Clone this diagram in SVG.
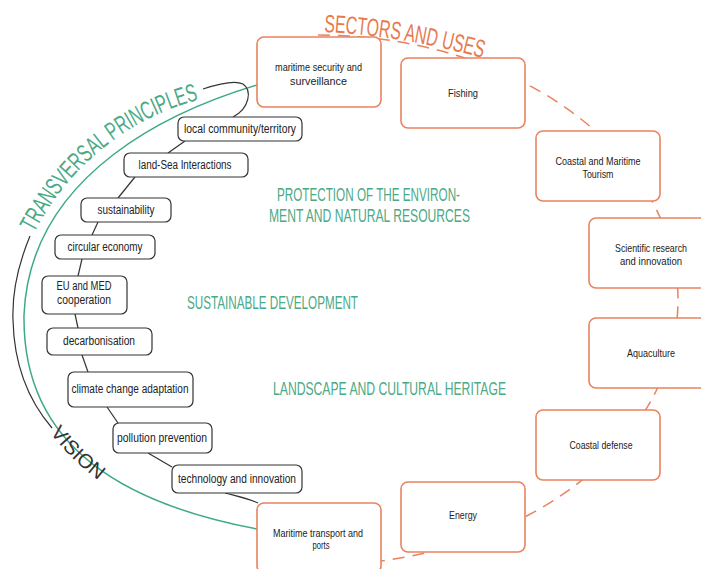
<svg xmlns="http://www.w3.org/2000/svg" width="701" height="569" viewBox="0 0 701 569">
<defs>
<style>
.ob{fill:#fff;stroke:#e9835f;stroke-width:1.6}
.kb{fill:#fff;stroke:#333;stroke-width:1.2}
.ot{font-family:"Liberation Sans",Arial,sans-serif;font-size:11px;fill:#222;text-anchor:middle}
.kt{font-family:"Liberation Sans",Arial,sans-serif;font-size:12px;fill:#222;text-anchor:middle}
.gt{font-family:"Liberation Sans",Arial,sans-serif;font-size:18px;fill:#4aaa86}
.dash{fill:none;stroke:#e9835f;stroke-width:1.5;stroke-dasharray:12 8}
.gl{fill:none;stroke:#3daa87;stroke-width:1.5}
.kl{fill:none;stroke:#333;stroke-width:1.2}
</style>
<path id="pSec" d="M324,32 Q405,36 490,60"/>
<path id="pTra" d="M34,233 C70,165 130,115 210,97"/>
<path id="pVis" d="M49.4,432 A324,244 0 0 0 219,539"/>
</defs>
<rect width="701" height="569" fill="#fff"/>
<g id="connectors">
<path class="dash" d="M318,35 A360,265 0 1 1 318,565"/>
<path class="gl" d="M257,85 C180,108 30,170 24,315 C22,450 130,505 257,529"/>
<path class="kl" d="M30,236 C18,265 12,295 13,320 C14,365 28,400 52,428"/>
<path class="kl" d="M203,89 C218,84 235,80 243,84 C252,90 250,108 233,117"/>
<path class="kl" d="M185,141 L168,153"/>
<path class="kl" d="M135,177 L118,198"/>
<path class="kl" d="M98,222 L92,235"/>
<path class="kl" d="M82,259 L78,276"/>
<path class="kl" d="M75,314 L78,328"/>
<path class="kl" d="M82,355 L88,372"/>
<path class="kl" d="M107,407 L118,423"/>
<path class="kl" d="M148,453 L172,467"/>
<path class="kl" d="M225,493 C240,497 250,499 258,503"/>
</g>
<g id="arc-labels">
<text font-family="Liberation Sans,Arial,sans-serif" font-size="25" fill="#e8794f"><textPath href="#pSec" textLength="161" lengthAdjust="spacingAndGlyphs">SECTORS AND USES</textPath></text>
<text font-family="Liberation Sans,Arial,sans-serif" font-size="25" fill="#4aaa86"><textPath href="#pTra" textLength="218" lengthAdjust="spacingAndGlyphs">TRANSVERSAL PRINCIPLES</textPath></text>
<text font-family="Liberation Sans,Arial,sans-serif" font-size="20" fill="#333"><textPath href="#pVis" startOffset="1" textLength="68" lengthAdjust="spacingAndGlyphs">VISION</textPath></text>
</g>
<g id="themes">
<text class="gt" x="277" y="201" textLength="183" lengthAdjust="spacingAndGlyphs">PROTECTION OF THE ENVIRON-</text>
<text class="gt" x="269" y="222" textLength="201" lengthAdjust="spacingAndGlyphs">MENT AND NATURAL RESOURCES</text>
<text class="gt" x="187" y="309" textLength="171" lengthAdjust="spacingAndGlyphs">SUSTAINABLE DEVELOPMENT</text>
<text class="gt" x="273" y="395" textLength="233" lengthAdjust="spacingAndGlyphs">LANDSCAPE AND CULTURAL HERITAGE</text>
</g>
<g id="n-security"><rect class="ob" x="257" y="37" width="124" height="70" rx="7"/><text class="ot" x="318.5" y="71" textLength="87" lengthAdjust="spacingAndGlyphs">maritime security and</text><text class="ot" x="318.5" y="85" textLength="57" lengthAdjust="spacingAndGlyphs">surveillance</text></g>
<g id="n-fishing"><rect class="ob" x="401" y="58" width="124" height="70" rx="7"/><text class="ot" x="463" y="97" textLength="30" lengthAdjust="spacingAndGlyphs">Fishing</text></g>
<g id="n-tourism"><rect class="ob" x="536" y="131" width="124" height="70" rx="7"/><text class="ot" x="598" y="165" textLength="85" lengthAdjust="spacingAndGlyphs">Coastal and Maritime</text><text class="ot" x="598" y="178" textLength="31" lengthAdjust="spacingAndGlyphs">Tourism</text></g>
<g id="n-research"><rect class="ob" x="589" y="218" width="124" height="70" rx="7"/><text class="ot" x="651" y="252" textLength="72" lengthAdjust="spacingAndGlyphs">Scientific research</text><text class="ot" x="651" y="265" textLength="62" lengthAdjust="spacingAndGlyphs">and innovation</text></g>
<g id="n-aquaculture"><rect class="ob" x="589" y="318" width="124" height="70" rx="7"/><text class="ot" x="651" y="357" textLength="48" lengthAdjust="spacingAndGlyphs">Aquaculture</text></g>
<g id="n-defense"><rect class="ob" x="536" y="410" width="124" height="70" rx="7"/><text class="ot" x="601" y="449" textLength="63" lengthAdjust="spacingAndGlyphs">Coastal defense</text></g>
<g id="n-energy"><rect class="ob" x="401" y="482" width="124" height="70" rx="7"/><text class="ot" x="463" y="519" textLength="28" lengthAdjust="spacingAndGlyphs">Energy</text></g>
<g id="n-transport"><rect class="ob" x="257" y="503" width="124" height="70" rx="7"/><text class="ot" x="318" y="537" textLength="90" lengthAdjust="spacingAndGlyphs">Maritime transport and</text><text class="ot" x="321" y="549" textLength="17" lengthAdjust="spacingAndGlyphs">ports</text></g>
<g id="p-local"><rect class="kb" x="178" y="117" width="124" height="24" rx="6"/><text class="kt" x="240" y="133" textLength="112" lengthAdjust="spacingAndGlyphs">local community/territory</text></g>
<g id="p-landsea"><rect class="kb" x="124" y="153" width="124" height="24" rx="6"/><text class="kt" x="185" y="169" textLength="93" lengthAdjust="spacingAndGlyphs">land-Sea Interactions</text></g>
<g id="p-sustainability"><rect class="kb" x="81" y="198" width="90" height="24" rx="6"/><text class="kt" x="126" y="214" textLength="57" lengthAdjust="spacingAndGlyphs">sustainability</text></g>
<g id="p-circular"><rect class="kb" x="55" y="235" width="100" height="24" rx="6"/><text class="kt" x="105" y="251" textLength="75" lengthAdjust="spacingAndGlyphs">circular economy</text></g>
<g id="p-eumed"><rect class="kb" x="42" y="276" width="85" height="38" rx="6"/><text class="kt" x="84" y="290" textLength="55" lengthAdjust="spacingAndGlyphs">EU and MED</text><text class="kt" x="84" y="304" textLength="54" lengthAdjust="spacingAndGlyphs">cooperation</text></g>
<g id="p-decarb"><rect class="kb" x="47" y="328" width="105" height="27" rx="6"/><text class="kt" x="99" y="345" textLength="72" lengthAdjust="spacingAndGlyphs">decarbonisation</text></g>
<g id="p-climate"><rect class="kb" x="68" y="372" width="125" height="35" rx="6"/><text class="kt" x="130" y="393" textLength="117" lengthAdjust="spacingAndGlyphs">climate change adaptation</text></g>
<g id="p-pollution"><rect class="kb" x="113" y="423" width="99" height="30" rx="6"/><text class="kt" x="162" y="442" textLength="90" lengthAdjust="spacingAndGlyphs">pollution prevention</text></g>
<g id="p-technology"><rect class="kb" x="172" y="465" width="130" height="28" rx="6"/><text class="kt" x="237" y="483" textLength="118" lengthAdjust="spacingAndGlyphs">technology and innovation</text></g>
</svg>
